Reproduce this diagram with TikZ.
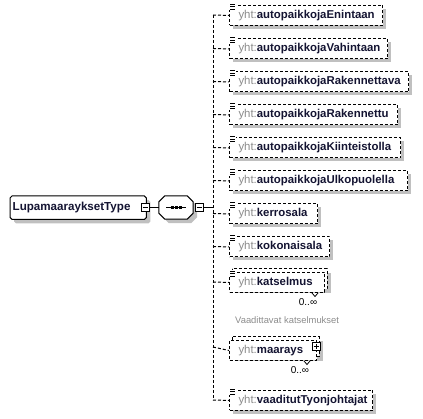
\documentclass[tikz,border=0pt]{standalone}
\usepackage{fontspec}
\setmainfont{Liberation Sans}
\usetikzlibrary{calc}
\definecolor{nm}{HTML}{141432}
\definecolor{pf}{HTML}{8C8C8C}
\definecolor{sh}{HTML}{C0C0C0}
\definecolor{note}{HTML}{8C8C8C}
\newcommand\elname[2]{\makebox[#1][l]{\hspace{9pt}\textcolor{pf}{yht:}\textbf{\textcolor{nm}{#2}}}}
\tikzset{
  dsh/.style={dash pattern=on 3pt off 2pt},
  elem/.style={draw, dsh, line width=1pt, fill=white, minimum height=20pt, inner sep=0pt,
    anchor=north west, font=\fontsize{11.4}{13}\selectfont},
  pmbox/.style={draw, line width=1pt, fill=white, minimum size=8pt, inner sep=0pt},
  conn/.style={line width=1pt},
  dconn/.style={line width=1pt, dsh},
  occ/.style={font=\fontsize{10}{12}\selectfont, text=black, inner sep=0pt},
  eqicon/.pic={\fill[white] (-0.5,-1.5) rectangle (7,5.5);
    \draw[line width=1pt] (1,-0.5)--(6,-0.5) (1,2)--(6,2) (1,4.5)--(6,4.5);}
}
\begin{document}
\begin{tikzpicture}[x=1pt,y=-1pt]
\useasboundingbox (0,0) rectangle (423,419);
% root type
\node[draw=none, minimum width=136pt, minimum height=23pt, inner sep=0pt, anchor=north west] (root) at (10,196) {};
\fill[sh] ($(root.north west)+(6,4)$) -- ($(root.north east)+(2,4)$) -- ($(root.north east)+(4,6)$)
  -- ($(root.south east)+(4,2)$) -- ($(root.south east)+(2,4)$) -- ($(root.south west)+(6,4)$)
  -- ($(root.south west)+(4,2)$) -- ($(root.north west)+(4,6)$) -- cycle;
\draw[line width=1pt, fill=white] ($(root.north west)+(2,0)$) -- ($(root.north east)+(-2,0)$) -- ($(root.north east)+(0,2)$)
  -- ($(root.south east)+(0,-2)$) -- ($(root.south east)+(-2,0)$) -- ($(root.south west)+(2,0)$)
  -- ($(root.south west)+(0,-2)$) -- ($(root.north west)+(0,2)$) -- cycle;
\node[draw=none, inner sep=0pt, anchor=west, font=\fontsize{11.6}{13}\selectfont] (roottxt) at ($(root.west)+(2.5,0)$)
  {\textbf{\textcolor{nm}{LupamaarayksetType}}};
\node[pmbox] (rootpm) at (145,207.5) {};
\draw[line width=1pt] ($(rootpm.center)+(-2.5,0)$) -- ($(rootpm.center)+(2.5,0)$);
% sequence
\node[draw=none, minimum width=34pt, minimum height=23pt, inner sep=0pt] (seq) at (176,207.5) {};
\fill[sh] ($(seq.north west)+(10,4)$) -- ($(seq.north east)+(-2,4)$) -- ($(seq.north east)+(4,10)$)
  -- ($(seq.south east)+(4,-2)$) -- ($(seq.south east)+(-2,4)$) -- ($(seq.south west)+(10,4)$)
  -- ($(seq.south west)+(4,-2)$) -- ($(seq.north west)+(4,10)$) -- cycle;
\draw[line width=1pt, fill=white] ($(seq.north west)+(6,0)$) -- ($(seq.north east)+(-6,0)$) -- ($(seq.north east)+(0,6)$)
  -- ($(seq.south east)+(0,-6)$) -- ($(seq.south east)+(-6,0)$) -- ($(seq.south west)+(6,0)$)
  -- ($(seq.south west)+(0,-6)$) -- ($(seq.north west)+(0,6)$) -- cycle;
\draw[line width=1pt] ($(seq.center)+(-10,0)$) -- ($(seq.center)+(10,0)$);
\foreach \dx in {-4,0,4} \fill ($(seq.center)+(\dx-1.5,-1.5)$) rectangle ($(seq.center)+(\dx+1.5,1.5)$);
\node[pmbox] (seqpm) at (199,207.5) {};
\draw[line width=1pt] ($(seqpm.center)+(-2.5,0)$) -- ($(seqpm.center)+(2.5,0)$);
\draw[conn] (rootpm.east) -- (seq.west);
\coordinate (bus) at (213,207.5);
\draw[conn] (seqpm.east) -- (bus);
% rows
\coordinate (v1) at (213,15);
\coordinate (v2) at (213,48.5);
\coordinate (v3) at (213,81.5);
\coordinate (v4) at (213,114.5);
\coordinate (v5) at (213,147.5);
\coordinate (v6) at (213,180.5);
\coordinate (v7) at (213,213.5);
\coordinate (v8) at (213,246.5);
\coordinate (v9) at (213,282);
\coordinate (v10) at (213,347);
\coordinate (v11) at (213,400);
\draw[dconn] (v1) -- (v11);
% simple elements
\foreach \n/\y/\w/\t in {1/5/153/autopaikkojaEnintaan, 2/38.5/158/autopaikkojaVahintaan,
   3/71.5/179/autopaikkojaRakennettava, 4/104.5/168/autopaikkojaRakennettu,
   5/137.5/171/autopaikkojaKiinteistolla, 6/170.5/178/autopaikkojaUlkopuolella,
   7/203.5/88/kerrosala, 8/236.5/100/kokonaisala, 11/390/143/vaaditutTyonjohtajat} {
  \fill[sh] (233,\y+4) rectangle (229+\w+4,\y+24);
  \node[elem] (e\n) at (229,\y) {\elname{\w pt}{\t}};
  \pic at (e\n.north west) {eqicon};
  \draw[dconn] (v\n) -- (e\n.west);
}
% katselmus (multiple)
\fill[sh] (236,273) rectangle (331,293);
\draw[line width=1pt, dsh, fill=white] (232,269) rectangle (327,289);
\node[elem] (e9) at (229,272) {\elname{95pt}{katselmus}};
\pic at (e9.north west) {eqicon};
\draw[dconn] (v9) -- (e9.west);
\draw[line width=0.8pt] (312,293) -- (315,296.5) -- (318,293);
\node[occ] (o9) at (308,302.5) {0..∞};
\node[font=\fontsize{9.4}{11}\selectfont, text=note, inner sep=0pt, anchor=west] (n9) at (235,320) {Vaadittavat katselmukset};
% maarays (multiple, complex)
\fill[sh] (236,341) rectangle (323,361);
\draw[line width=1pt, dsh, fill=white] (232,337) rectangle (319,357);
\node[elem] (e10) at (229,340) {\elname{87pt}{maarays}};
\draw[dconn] (v10) -- (e10.west);
\node[pmbox] (e10pm) at (316,346.5) {};
\draw[line width=1pt] ($(e10pm.center)+(-2.5,0)$) -- ($(e10pm.center)+(2.5,0)$)
  ($(e10pm.center)+(0,-2.5)$) -- ($(e10pm.center)+(0,2.5)$);
\draw[line width=0.8pt] (304,361) -- (307,364.5) -- (310,361);
\node[occ] (o10) at (300,370) {0..∞};
\end{tikzpicture}
\end{document}
